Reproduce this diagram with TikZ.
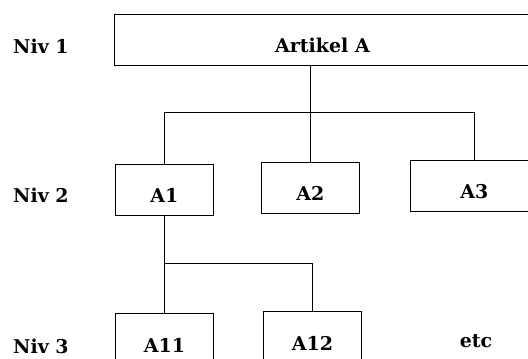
\documentclass[tikz,border=0pt]{standalone}
\usepackage{fontspec}
\setmainfont{DejaVu Serif}
\begin{document}
\begin{tikzpicture}[x=1pt,y=-1pt,
  txt/.style={font=\fontsize{19}{22}\selectfont\bfseries},
  box/.style={draw,line width=0.9pt,inner xsep=0pt,inner ysep=0pt,text height=38pt,text depth=13pt,anchor=north west,txt},
  lbl/.style={anchor=base west,inner sep=0pt,txt},
  conn/.style={line width=0.9pt}]
\useasboundingbox (0,0) rectangle (528,359);
\clip (0,0) rectangle (528,359);
\node[lbl] (n1) at (13,53) {Niv 1};
\node[lbl] (n2) at (13,202) {Niv 2};
\node[lbl] (n3) at (13,353) {Niv 3};
\node[box,minimum width=431pt] (art) at (114,14) {Artikel A\hspace*{15pt}};
\node[box,minimum width=98pt] (a1) at (115,164) {A1};
\node[box,minimum width=98pt] (a2) at (261,162) {A2};
\node[box,minimum width=128pt] (a3) at (410,160) {A3};
\node[box,minimum width=98pt,text height=39pt,text depth=12pt] (a11) at (115,313) {A11};
\node[box,minimum width=98pt,text height=39pt,text depth=12pt] (a12) at (263,311) {A12};
\node[anchor=base,inner sep=0pt,txt] (etc) at (476,347) {etc};
\coordinate (bus1) at (0,112);
\coordinate (bus2) at (0,263.5);
\draw[conn] (art.south -| a2.north) -- (a2.north);
\draw[conn] (a1.north) -- (a1.north |- bus1) -- (a3.north |- bus1) -- (a3.north);
\draw[conn] (a1.south) -- (a11.north);
\draw[conn] (a11.north |- bus2) -- (a12.north |- bus2) -- (a12.north);
\end{tikzpicture}
\end{document}
